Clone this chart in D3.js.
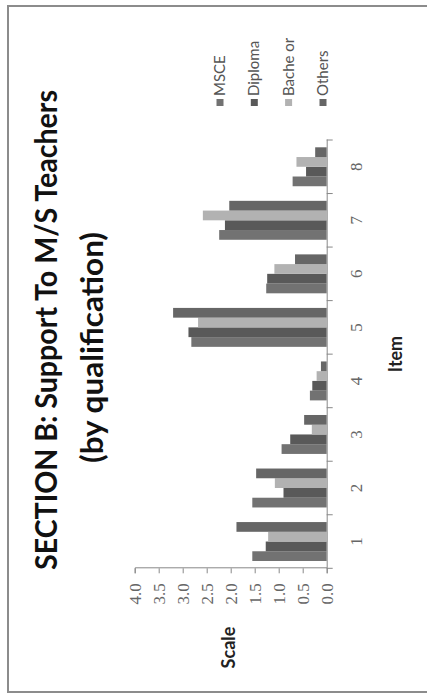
<!DOCTYPE html>
<html>
<head>
<meta charset="utf-8">
<script src="https://cdn.jsdelivr.net/npm/d3@7"></script>
<style>
  html, body { margin: 0; padding: 0; background: #fff; }
  svg { display: block; }
</style>
</head>
<body>
<svg id="chart" width="427" height="693"></svg>
<script>
// Data
const items = ["1", "2", "3", "4", "5", "6", "7", "8"];
const seriesNames = ["MSCE", "Diploma", "Bachelor", "Others"];
const legendLabels = ["MSCE", "Diploma", "Bache or", "Others"];
const msce     = [1.55, 1.55, 0.94, 0.35, 2.82, 1.26, 2.24, 0.71];
const diploma  = [1.27, 0.90, 0.76, 0.30, 2.88, 1.24, 2.12, 0.43];
const bachelor = [1.22, 1.08, 0.31, 0.21, 2.68, 1.09, 2.58, 0.63];
const others   = [1.88, 1.47, 0.47, 0.12, 3.20, 0.66, 2.03, 0.24];
const valueTicks = [0, 0.5, 1, 1.5, 2, 2.5, 3, 3.5, 4];
const seriesColors = ["#727272", "#595959", "#b2b2b2", "#666666"];

const seriesValues = [msce, diploma, bachelor, others];

const svg = d3.select("#chart");
const W = 427, H = 693;

// Whole sheet is laid out sideways: draw in a frame H wide and W tall, then turn it.
const g = svg.append("g").attr("transform", `translate(0,${H}) rotate(-90)`);

// Chart border
g.append("rect")
  .attr("x", 1).attr("y", 8)
  .attr("width", 686).attr("height", 520)
  .attr("fill", "none").attr("stroke", "#8c8c8c").attr("stroke-width", 2);

// Scales
const x0 = d3.scaleBand().domain(items).range([124.7, 553]).paddingInner(0).paddingOuter(0);
const x1 = d3.scaleBand().domain(seriesNames).range([0, x0.bandwidth()]).paddingInner(0).paddingOuter(0.75);
const y = d3.scaleLinear().domain([0, 4]).range([326.7, 134.7]);

// Bars
const rows = items.map((it, i) => ({ item: it, vals: seriesNames.map((s, k) => ({ s, k, v: seriesValues[k][i] })) }));
const grp = g.append("g").selectAll("g").data(rows).join("g")
  .attr("transform", d => `translate(${x0(d.item)},0)`);
grp.selectAll("rect").data(d => d.vals).join("rect")
  .attr("x", d => x1(d.s))
  .attr("width", x1.bandwidth())
  .attr("y", d => y(d.v))
  .attr("height", d => y(0) - y(d.v))
  .attr("fill", d => seriesColors[d.k]);

// Value axis
const yAxis = g.append("g").attr("transform", `translate(${x0.range()[0]},0)`)
  .call(d3.axisLeft(y).tickValues(valueTicks).tickFormat(d3.format(".1f")).tickSize(5).tickPadding(10));
yAxis.select(".domain").attr("stroke", "#888").attr("stroke-width", 1);
yAxis.selectAll(".tick line").attr("stroke", "#888");
yAxis.selectAll("text")
  .attr("font-family", "'Liberation Serif', serif").attr("font-size", 17).attr("fill", "#666");

// Category axis: boundary ticks plus centred labels
const xAxis = g.append("g").attr("transform", `translate(0,${y(0)})`)
  .call(d3.axisBottom(x0).tickSize(0).tickPadding(23));
xAxis.select(".domain").attr("stroke", "#888").attr("stroke-width", 1);
xAxis.selectAll("text")
  .attr("font-family", "'Liberation Serif', serif").attr("font-size", 17).attr("fill", "#666");
const bounds = items.map(d => x0(d)).concat([x0.range()[1]]);
xAxis.selectAll(".bound").data(bounds).join("line")
  .attr("class", "bound")
  .attr("x1", d => d).attr("x2", d => d)
  .attr("y1", 0).attr("y2", 6)
  .attr("stroke", "#888");

// Axis titles
g.append("text").attr("x", 339).attr("y", 402).attr("text-anchor", "middle")
  .attr("font-family", "Lato, 'Open Sans', sans-serif").attr("font-weight", "bold")
  .attr("font-size", 18).attr("fill", "#222").text("Item");
g.append("text").attr("x", 45.5).attr("y", 235).attr("text-anchor", "middle")
  .attr("font-family", "Lato, 'Open Sans', sans-serif").attr("font-weight", "bold")
  .attr("font-size", 18).attr("fill", "#222").text("Scale");

// Title (two lines, condensed to the narrow title face width)
g.append("text").attr("x", 363).attr("y", 57).attr("text-anchor", "middle")
  .attr("font-family", "Lato, 'Open Sans', sans-serif").attr("font-weight", "bold")
  .attr("font-size", 31).attr("fill", "#111")
  .attr("textLength", 480).attr("lengthAdjust", "spacingAndGlyphs")
  .text("SECTION B: Support To M/S Teachers");
g.append("text").attr("x", 345.5).attr("y", 103).attr("text-anchor", "middle")
  .attr("font-family", "Lato, 'Open Sans', sans-serif").attr("font-weight", "bold")
  .attr("font-size", 31).attr("fill", "#111")
  .attr("textLength", 231).attr("lengthAdjust", "spacingAndGlyphs")
  .text("(by qualification)");

// Legend
const legendY = [220, 254.3, 288.6, 323];
const leg = g.append("g").selectAll("g").data(seriesNames).join("g")
  .attr("transform", (d, i) => `translate(587,${legendY[i]})`);
leg.append("rect").attr("x", 0).attr("y", -3.5).attr("width", 7).attr("height", 7)
  .attr("fill", (d, i) => seriesColors[i]);
leg.append("text").attr("x", 10).attr("y", 5)
  .attr("font-family", "Lato, 'Open Sans', sans-serif").attr("font-size", 15).attr("fill", "#555")
  .text((d, i) => legendLabels[i]);
</script>
</body>
</html>
